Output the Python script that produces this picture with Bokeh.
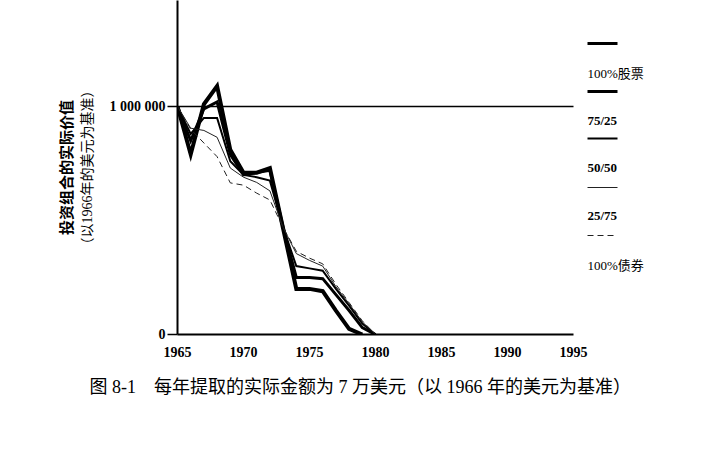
import math
from bokeh.plotting import figure
from bokeh.models import FixedTicker, Label, Arrow, Range1d, Title
from bokeh.embed import file_html
from bokeh.resources import INLINE

# ---- data (real portfolio value, 1966 dollars) ----
years = [1965, 1966, 1967, 1968, 1969, 1970, 1971, 1972, 1973, 1974, 1975, 1976, 1977, 1978, 1979, 1980]
stocks100 = [1000000, 790000, 1010000, 1090000, 810000, 710000, 710000, 730000, 465000, 200000, 200000, 190000, 105000, 25000, 0]
mix75_25 = [1000000, 850000, 990000, 1020000, 790000, 700000, 710000, 720000, 470000, 250000, 250000, 245000, 175000, 105000, 30000, 0]
mix50_50 = [1000000, 880000, 950000, 950000, 760000, 700000, 690000, 675000, 470000, 300000, 290000, 280000, 200000, 127000, 48000, 0]
mix25_75 = [1000000, 905000, 895000, 865000, 730000, 690000, 667000, 630000, 470000, 355000, 325000, 300000, 210000, 135000, 55000, 0]
bonds100 = [1000000, 900000, 840000, 780000, 665000, 655000, 620000, 590000, 470000, 365000, 335000, 310000, 220000, 140000, 60000, 0]

x_ticks = [1965, 1970, 1975, 1980, 1985, 1990, 1995]
y_ticks = [0, 1000000]
y_tick_labels = {0: "0", 1000000: "1 000 000"}

legend_names = ["100%股票", "75/25", "50/50", "25/75", "100%债券"]
ylabel_1 = "投资组合的实际价值"
ylabel_2 = "（以1966年的美元为基准）"
caption = "图 8-1\u3000每年提取的实际金额为 7 万美元（以 1966 年的美元为基准）"

SERIF = "Liberation Serif, Noto Sans CJK SC"
CJK = "Noto Sans CJK SC"

W, H = 690, 446
LEFT, BOTTOM = 177, 112
axis_px = 396  # pixel length of the 1965-1995 axis
frame_w = W - LEFT
x_end = x_ticks[0] + (x_ticks[-1] - x_ticks[0]) * frame_w / axis_px

p = figure(width=W, height=H, output_backend="svg", toolbar_location=None,
           x_range=Range1d(x_ticks[0], x_end), y_range=Range1d(0, 1465000),
           min_border_left=LEFT, min_border_right=0, min_border_top=0,
           min_border_bottom=BOTTOM)
p.outline_line_color = None
p.xgrid.visible = False
p.ygrid.visible = False
p.background_fill_color = "white"

# x axis
p.xaxis.ticker = FixedTicker(ticks=x_ticks)
p.xaxis.bounds = (x_ticks[0], x_ticks[-1])
p.xaxis.major_tick_line_color = None
p.xaxis.major_tick_out = 0
p.xaxis.major_tick_in = 0
p.xaxis.minor_tick_line_color = None
p.xaxis.axis_line_width = 2
p.xaxis.major_label_text_font = SERIF
p.xaxis.major_label_text_font_style = "bold"
p.xaxis.major_label_text_font_size = "14px"
p.xaxis.major_label_standoff = 12
p.xaxis.major_label_text_color = "black"

# y axis
p.yaxis.ticker = FixedTicker(ticks=y_ticks)
p.yaxis.major_label_overrides = y_tick_labels
p.yaxis.minor_tick_line_color = None
p.yaxis.major_tick_in = 0
p.yaxis.major_tick_out = 10
p.yaxis.major_tick_line_width = 1.5
p.yaxis.axis_line_width = 2
p.yaxis.major_label_text_font = SERIF
p.yaxis.major_label_text_font_style = "bold"
p.yaxis.major_label_text_font_size = "14px"
p.yaxis.major_label_standoff = 2
p.yaxis.major_label_text_color = "black"
p.yaxis.axis_label = ylabel_2
p.yaxis.axis_label_text_font = SERIF
p.yaxis.axis_label_text_font_style = "normal"
p.yaxis.axis_label_text_font_size = "14px"
p.yaxis.axis_label_text_color = "black"
p.yaxis.axis_label_standoff = 12

p.add_layout(Title(text=ylabel_1, align="center", text_font=CJK, text_font_size="15px",
                   text_font_style="bold", text_color="black", standoff=2), "left")

p.add_layout(Title(text=caption, align="left", offset=-88, text_font=SERIF,
                   text_font_size="18px", text_font_style="normal", text_color="black",
                   standoff=30), "below")

# 1 000 000 reference line across the axis span
p.line([x_ticks[0], x_ticks[-1]], [y_ticks[1], y_ticks[1]], line_color="black", line_width=1.3)

# series
styles = [
    (stocks100, 4.0, "solid", "black"),
    (mix75_25, 3.0, "solid", "black"),
    (mix50_50, 2.0, "solid", "black"),
    (mix25_75, 1.0, "solid", "#222222"),
    (bonds100, 1.0, "6 4", "#222222"),
]
for vals, lw, dash, col in styles:
    p.line(years[:len(vals)], vals, line_width=lw, line_dash=dash, line_color=col, line_join="miter")

# legend (line above text), frame-relative screen coords
leg_line_y = [291, 243, 196, 147, 99]
leg_text_y = [261, 214, 167, 119, 69]
leg_bold = ["normal", "bold", "bold", "bold", "normal"]
for (vals, lw, dash, col), ty, name, fs in zip(styles, leg_text_y, legend_names, leg_bold):
    p.add_layout(Label(x=410, y=ty, x_units="screen", y_units="screen", text=name,
                       text_font=SERIF, text_font_size="13px", text_font_style=fs,
                       text_align="left", text_baseline="middle", text_color="black"))
for (vals, lw, dash, col), ly in zip(styles, leg_line_y):
    p.add_layout(Arrow(end=None, x_start=410, y_start=ly, x_end=440, y_end=ly,
                       start_units="screen", end_units="screen",
                       line_width=min(lw, 3.0), line_dash=dash, line_color=col))

open("out.html", "w").write(file_html(p, INLINE))
